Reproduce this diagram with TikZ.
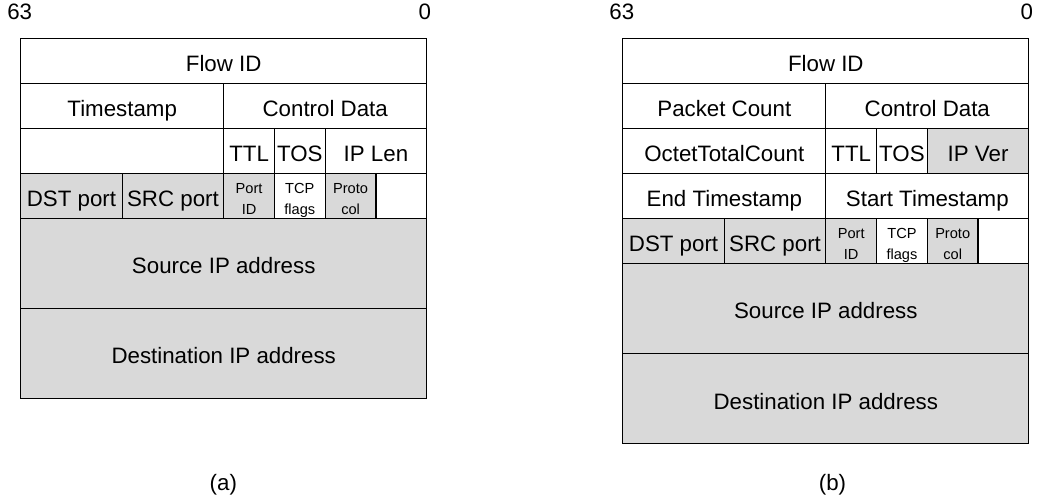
\documentclass[tikz,border=0pt]{standalone}
\usepackage{fontspec}
\setmainfont{Liberation Sans}
\usepackage{tikz}
\usetikzlibrary{positioning}
\definecolor{fieldgray}{HTML}{D9D9D9}
\newcommand{\bytew}{25.375pt}
\newcommand{\rowh}{22.5pt}
\newcommand{\twolines}[2]{\rule{0pt}{9.5pt}#1\\#2\rule[-1.5pt]{0pt}{0pt}}

\begin{document}
\begin{tikzpicture}[x=25.375pt,y=-22.5pt,
	field/.style={draw=black,line width=0.6pt,anchor=north west,inner sep=0pt,outer sep=0pt,
		minimum width=#1*\bytew,minimum height=\rowh,
		font=\fontsize{11.15}{13.4}\selectfont,text height=10.7pt,text depth=0pt},
	field/.default=1,
	tall/.style={minimum height=2*\rowh},
	shade/.style={fill=fieldgray},
	tiny/.style={font=\fontsize{7.3}{10.5}\selectfont,align=center,text height=,text depth=},
	bits/.style={inner sep=0pt,font=\fontsize{11.15}{13.4}\selectfont}]
	\useasboundingbox (0,0) rectangle (20.512,11.044);

	\begin{scope}[shift={(0.408,0.851)}]
	\node[field=8] (a-flow) at (0,0) {Flow ID};
	\node[field=4] (a-time) at (0,1) {Timestamp};
	\node[field=4] (a-ctrl) at (4,1) {Control Data};
	\node[field=4] (a-free) at (0,2) {};
	\node[field] (a-ttl) at (4,2) {TTL};
	\node[field] (a-tos) at (5,2) {TOS};
	\node[field=2] (a-iplen) at (6,2) {IP Len};
	\node[field=2,shade] (a-dst) at (0,3) {DST port};
	\node[field=2,shade] (a-src) at (2,3) {SRC port};
	\node[field,shade,tiny] (a-pid) at (4,3) {\twolines{Port}{ID}};
	\node[field,tiny] (a-flags) at (5,3) {\twolines{TCP}{flags}};
	\node[field,shade,tiny] (a-proto) at (6,3) {\twolines{Proto}{col}};
	\node[field] (a-pad) at (7,3) {};
	\node[field=8,tall,shade] (a-sip) at (0,4) {Source IP address};
	\node[field=8,tall,shade] (a-dip) at (0,6) {Destination IP address};
	\node[bits,anchor=base west] (a-msb) at ([xshift=-6.9pt,yshift=9.2pt]a-flow.north west) {63};
	\node[bits,anchor=base east] (a-lsb) at ([xshift=2.3pt,yshift=9.2pt]a-flow.north east) {0};
	\end{scope}

	\begin{scope}[shift={(12.272,0.851)}]
	\node[field=8] (b-flow) at (0,0) {Flow ID};
	\node[field=4] (b-pkts) at (0,1) {Packet Count};
	\node[field=4] (b-ctrl) at (4,1) {Control Data};
	\node[field=4] (b-octets) at (0,2) {OctetTotalCount};
	\node[field] (b-ttl) at (4,2) {TTL};
	\node[field] (b-tos) at (5,2) {TOS};
	\node[field=2,shade] (b-ipver) at (6,2) {IP Ver};
	\node[field=4] (b-end) at (0,3) {End Timestamp};
	\node[field=4] (b-start) at (4,3) {Start Timestamp};
	\node[field=2,shade] (b-dst) at (0,4) {DST port};
	\node[field=2,shade] (b-src) at (2,4) {SRC port};
	\node[field,shade,tiny] (b-pid) at (4,4) {\twolines{Port}{ID}};
	\node[field,tiny] (b-flags) at (5,4) {\twolines{TCP}{flags}};
	\node[field,shade,tiny] (b-proto) at (6,4) {\twolines{Proto}{col}};
	\node[field] (b-pad) at (7,4) {};
	\node[field=8,tall,shade] (b-sip) at (0,5) {Source IP address};
	\node[field=8,tall,shade] (b-dip) at (0,7) {Destination IP address};
	\node[bits,anchor=base west] (b-msb) at ([xshift=-6.9pt,yshift=9.2pt]b-flow.north west) {63};
	\node[bits,anchor=base east] (b-lsb) at ([xshift=2.3pt,yshift=9.2pt]b-flow.north east) {0};
	\end{scope}

	\node[bits,anchor=base] (cap-a) at (4.400,10.9) {(a)};
	\node[bits,anchor=base] (cap-b) at (16.404,10.9) {(b)};
\end{tikzpicture}
\end{document}
